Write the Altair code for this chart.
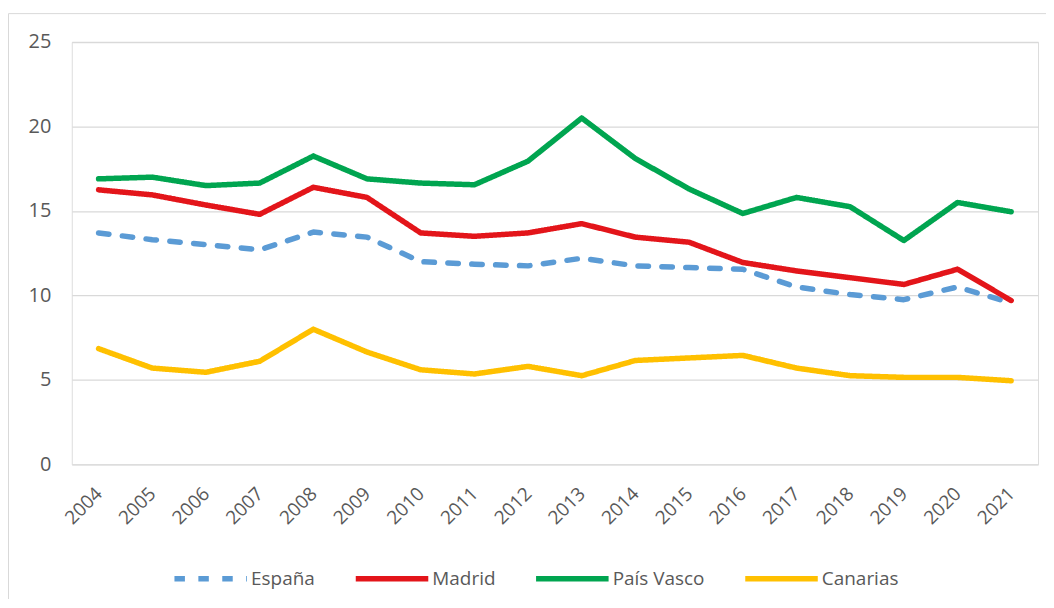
import altair as alt
import pandas as pd

years = [str(y) for y in range(2004, 2022)]
espana = [13.7, 13.3, 13.0, 12.7, 13.75, 13.45, 12.0, 11.85, 11.75, 12.2, 11.75, 11.65, 11.55, 10.5, 10.05, 9.75, 10.5, 9.55]
madrid = [16.25, 15.95, 15.35, 14.8, 16.4, 15.8, 13.7, 13.5, 13.7, 14.25, 13.45, 13.15, 11.95, 11.45, 11.05, 10.65, 11.55, 9.7]
pais_vasco = [16.9, 17.0, 16.5, 16.65, 18.25, 16.9, 16.65, 16.55, 17.95, 20.5, 18.1, 16.3, 14.85, 15.8, 15.25, 13.25, 15.5, 14.95]
canarias = [6.85, 5.7, 5.45, 6.1, 8.0, 6.65, 5.6, 5.35, 5.8, 5.25, 6.15, 6.3, 6.45, 5.7, 5.25, 5.15, 5.15, 4.95]

series_names = ["España", "Madrid", "País Vasco", "Canarias"]
series_values = [espana, madrid, pais_vasco, canarias]
colors = ["#5B9BD5", "#E3151A", "#00A550", "#FFC000"]
dashes = [[10.5, 13.5], [1, 0], [1, 0], [1, 0]]

rows = []
for i, (name, vals) in enumerate(zip(series_names, series_values)):
    for y, v in zip(years, vals):
        rows.append({"Año": y, "Serie": name, "Valor": v, "orden": i})
df = pd.DataFrame(rows)

FONT = "Open Sans"
GRAY = "#595959"

lines = alt.Chart(df).mark_line(strokeWidth=5.5, strokeCap="round", strokeJoin="round").encode(
    x=alt.X("Año:O", sort=years, scale=alt.Scale(type="point", padding=0.5),
            axis=alt.Axis(title=None, labelAngle=-45, labelAlign="right", labelBaseline="middle",
                          labelPadding=26, ticks=False, domain=False, labelFontSize=19,
                          labelColor=GRAY, labelFont=FONT)),
    y=alt.Y("Valor:Q", scale=alt.Scale(domain=[0, 25], nice=False),
            axis=alt.Axis(title=None, values=[0, 5, 10, 15, 20, 25], ticks=False, domain=False,
                          labelPadding=21, labelFontSize=20, labelColor=GRAY, labelFont=FONT,
                          gridColor="#D9D9D9", gridWidth=1.3)),
    color=alt.Color("Serie:N", sort=series_names,
                    scale=alt.Scale(domain=series_names, range=colors),
                    legend=alt.Legend(title=None, orient="none", direction="horizontal",
                                      legendX=100, legendY=499,
                                      symbolType="stroke", symbolSize=5300, symbolStrokeWidth=5.5,
                                      labelFontSize=19, labelColor=GRAY, labelFont=FONT,
                                      labelOffset=1, columnPadding=29, symbolOffset=0)),
    strokeDash=alt.StrokeDash("Serie:N", sort=series_names,
                              scale=alt.Scale(domain=series_names, range=dashes),
                              legend=alt.Legend(title=None)),
    order=alt.Order("orden:Q"),
    detail="Serie:N",
)

border = alt.Chart(pd.DataFrame({"a": [0]})).mark_rect(
    fill=None, stroke="#D9D9D9", strokeWidth=1, clip=False
).encode(
    x=alt.value(-63.5), x2=alt.value(1000), y=alt.value(-28.5), y2=alt.value(700)
)

chart = alt.layer(border, lines).properties(
    width=970, height=424,
    padding={"left": 64, "top": 33, "right": 8, "bottom": 134},
    autosize=alt.AutoSizeParams(type="none"),
).configure_view(stroke=None).configure(background="white")

chart.save("out.html", embed_options={"renderer": "svg", "actions": False})
